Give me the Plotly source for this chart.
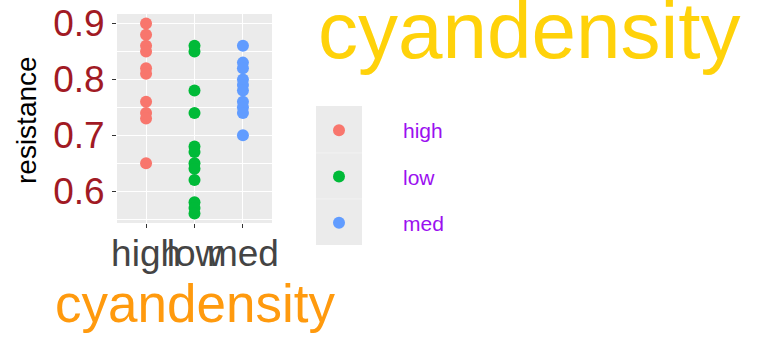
import plotly.graph_objects as go

categories = ["high", "low", "med"]
colors = {"high": "#F8766D", "low": "#00BA38", "med": "#619CFF"}
high_vals = [0.90, 0.88, 0.86, 0.85, 0.82, 0.81, 0.76, 0.74, 0.73, 0.65]
low_vals = [0.86, 0.85, 0.78, 0.74, 0.68, 0.67, 0.65, 0.64, 0.62, 0.58, 0.57, 0.56]
med_vals = [0.86, 0.83, 0.82, 0.80, 0.79, 0.78, 0.76, 0.75, 0.74, 0.70]
series = {"high": high_vals, "low": low_vals, "med": med_vals}
y_ticks = [0.6, 0.7, 0.8, 0.9]
title_text = "cyandensity"
y_title = "resistance"

W, H = 768, 345
L, R, T, B = 117, 272, 14, 223
pw, ph = R - L, B - T

def px(x):
    return (x - L) / pw

def py(y):
    return (B - y) / ph

FONT = "Liberation Sans, Arial, sans-serif"

fig = go.Figure()
for cat in categories:
    vals = series[cat]
    fig.add_trace(go.Scatter(
        x=[cat] * len(vals), y=vals, mode="markers", name=cat,
        legendgroup=cat,
        marker=dict(color=colors[cat], size=12, line=dict(width=0)),
    ))

fig.update_layout(
    width=W, height=H,
    margin=dict(l=L, r=W - R, t=T, b=H - B, pad=0, autoexpand=False),
    paper_bgcolor="white", plot_bgcolor="#EBEBEB",
    font=dict(family=FONT),
    showlegend=True,
    legend=dict(
        x=px(275), y=py(110), xanchor="left", yanchor="top",
        bgcolor="rgba(0,0,0,0)", itemwidth=118,
        font=dict(size=21, color="#9B10F0", family=FONT),
        traceorder="grouped", tracegroupgap=16,
    ),
    xaxis=dict(
        type="category", categoryorder="array", categoryarray=categories,
        range=[-0.6, 2.6], showgrid=True, gridcolor="white", gridwidth=1.4,
        ticks="outside", ticklen=4, tickcolor="#333333", tickwidth=1,
        tickangle=0, automargin=False, ticklabelstandoff=-6,
        tickfont=dict(size=37, color="#444444", family=FONT),
        zeroline=False, showline=False,
    ),
    yaxis=dict(
        range=[0.543, 0.917], tickvals=y_ticks, ticktext=[str(v) for v in y_ticks],
        showgrid=True, gridcolor="white", gridwidth=1.4, automargin=False,
        ticks="outside", ticklen=4, tickcolor="#333333", tickwidth=1,
        tickfont=dict(size=37, color="#A11A24", family=FONT),
        zeroline=False, showline=False,
        minor=dict(tick0=0.55, dtick=0.1, showgrid=True, gridcolor="white", gridwidth=0.7, ticks=""),
    ),
)

# legend key background
fig.add_shape(type="rect", xref="paper", yref="paper",
              x0=px(316), x1=px(362), y0=py(245), y1=py(106),
              fillcolor="#EBEBEB", line=dict(width=0), layer="below")
for yy in [153, 199]:
    fig.add_shape(type="line", xref="paper", yref="paper",
                  x0=px(316), x1=px(362), y0=py(yy), y1=py(yy),
                  line=dict(color="#F2F2F2", width=1), layer="below")

fig.add_annotation(text=title_text, xref="paper", yref="paper",
                   x=px(529), y=py(31), xanchor="center", yanchor="middle",
                   showarrow=False, font=dict(size=80, color="#FFD20A", family=FONT))
fig.add_annotation(text=title_text, xref="paper", yref="paper",
                   x=px(195), y=py(303), xanchor="center", yanchor="middle",
                   showarrow=False, font=dict(size=53, color="#FF9A0E", family=FONT))
fig.add_annotation(text=y_title, xref="paper", yref="paper",
                   x=px(26), y=py(120), xanchor="center", yanchor="middle",
                   textangle=-90, showarrow=False, font=dict(size=28, color="black", family=FONT))

fig.write_html("out.html")
